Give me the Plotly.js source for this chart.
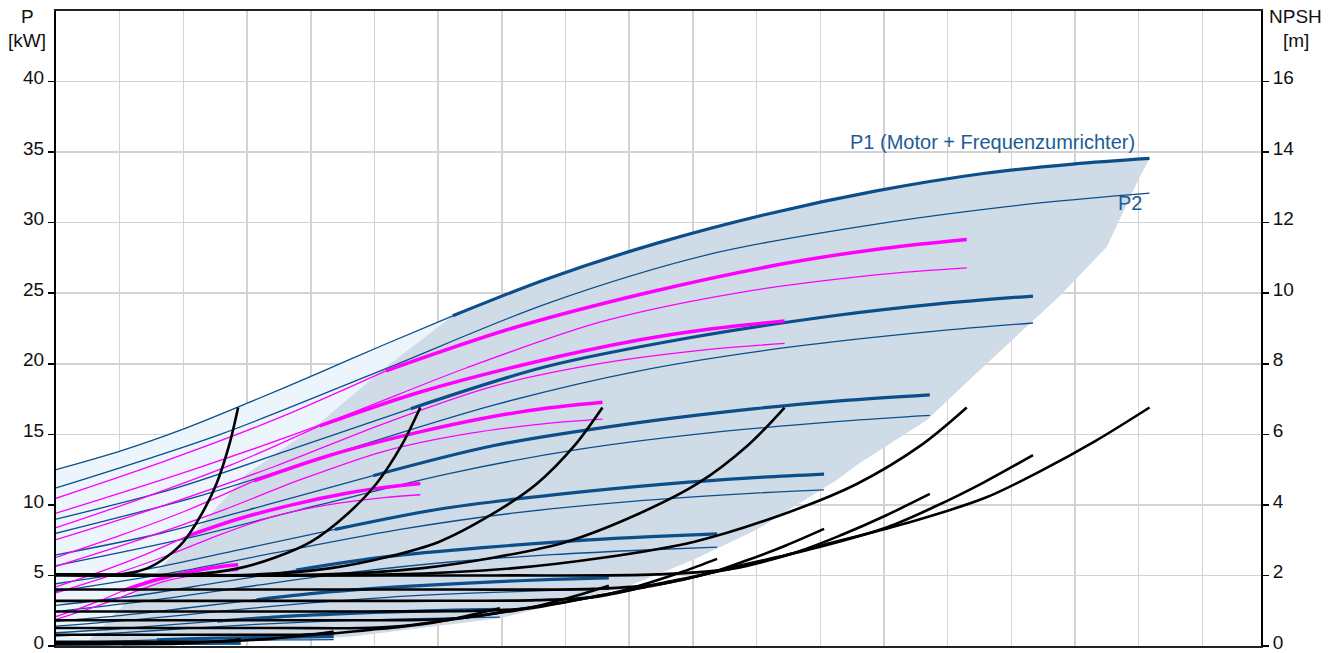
<!DOCTYPE html>
<html><head><meta charset="utf-8">
<script src="https://cdn.plot.ly/plotly-3.0.1.min.js"></script>
<style>html,body{margin:0;padding:0;background:#fff;}#chart{width:1341px;height:653px;}</style>
</head><body><div id="chart"></div>
<script>
// ---------- Blue family: P1 (thin part / thick operating part) and P2, x = flow (grid units), y = P [kW]
const blueP1ThinX = [
 [0,1.03,2.06,3.09,4.12,5.15,6.23],
 [0,1.84,3.68,5.57],
 [0,1.65,3.29,4.98],
 [0,1.45,2.89,4.38],
 [0,1.25,2.49,3.77],
 [0,1.04,2.08,3.15],
 [0,0.84,1.67,2.53],
 [0,0.52,1.05,1.58],
 [0,0.35,0.70,1.05]
];
const blueP1ThinP = [
 [12.5,13.85,15.48,17.37,19.34,21.35,23.4],
 [8.99,11.13,13.91,16.82],
 [6.45,7.99,9.98,12.07],
 [4.41,5.46,6.83,8.26],
 [2.88,3.56,4.45,5.38],
 [1.75,2.17,2.71,3.28],
 [0.94,1.17,1.46,1.76],
 [0.24,0.29,0.37,0.44],
 [0.08,0.10,0.13,0.15]
];
const blueP1ThickX = [
 [6.23,7.73,9.44,11.16,12.88,14.59,15.97,17.17],
 [5.57,7.67,9.97,12.27,13.81,15.34],
 [4.98,6.86,8.92,10.98,12.35,13.72],
 [4.38,6.03,7.84,9.65,10.85,12.06],
 [3.77,5.19,6.75,8.30,9.34,10.38],
 [3.15,4.34,5.64,6.94,7.81,8.68],
 [2.53,3.49,4.53,5.58,6.27,6.97],
 [1.58,2.18,2.83,3.49,3.92,4.36],
 [1.05,1.45,1.89,2.32,2.61,2.90]
];
const blueP1ThickP = [
 [23.4,26.05,28.55,30.6,32.25,33.5,34.15,34.55],
 [16.82,19.77,21.86,23.44,24.23,24.8],
 [12.07,14.19,15.69,16.82,17.39,17.80],
 [8.26,9.71,10.73,11.51,11.90,12.18],
 [5.38,6.33,6.99,7.50,7.75,7.94],
 [3.28,3.85,4.26,4.56,4.72,4.83],
 [1.76,2.07,2.29,2.46,2.54,2.60],
 [0.44,0.52,0.58,0.62,0.64,0.66],
 [0.15,0.18,0.20,0.21,0.22,0.22]
];
const blueP2X = [
 [0,2.58,5.15,7.73,10.3,12.88,15.45,17.17],
 [0,2.30,4.60,6.90,9.20,11.51,13.81,15.34],
 [0,2.06,4.12,6.17,8.23,10.29,12.35,13.72],
 [0,1.81,3.62,5.43,7.24,9.05,10.85,12.06],
 [0,1.56,3.11,4.67,6.23,7.79,9.34,10.38],
 [0,1.30,2.60,3.91,5.21,6.51,7.81,8.68],
 [0,1.05,2.09,3.14,4.18,5.23,6.27,6.97],
 [0,0.65,1.31,1.96,2.62,3.27,3.92,4.36],
 [0,0.44,0.87,1.31,1.74,2.18,2.61,2.90]
];
const blueP2P = [
 [11.2,15.0,19.6,24.3,27.8,29.9,31.4,32.1],
 [7.99,10.70,13.97,17.11,19.54,21.18,22.32,22.89],
 [5.70,7.64,9.98,12.22,13.95,15.12,15.93,16.34],
 [3.86,5.18,6.76,8.28,9.45,10.25,10.80,11.07],
 [2.44,3.27,4.27,5.23,5.97,6.47,6.82,7.00],
 [1.41,1.89,2.47,3.02,3.45,3.74,3.94,4.04],
 [0.71,0.95,1.25,1.53,1.74,1.89,1.99,2.04],
 [0.16,0.21,0.27,0.34,0.38,0.42,0.44,0.45],
 [0.04,0.06,0.08,0.10,0.11,0.12,0.13,0.13]
];

// ---------- Magenta family
const magP1ThinX = [[0,1.72,3.43,5.18],[0,1.37,2.75,4.14],[0,1.03,2.06,3.11],[0,0.69,1.37,2.07],[0,0.34,0.69,1.04]];
const magP1ThinP = [[10.47,13.12,16.04,19.5],[8.38,10.50,12.83,15.6],[6.28,7.87,9.62,11.7],[4.19,5.25,6.42,7.8],[2.09,2.62,3.21,3.9]];
const magP1ThickX = [[5.18,7.15,9.30,11.44,12.87,14.30],[4.14,5.72,7.44,9.15,10.30,11.44],[3.11,4.29,5.58,6.86,7.72,8.58],[2.07,2.86,3.72,4.58,5.15,5.72],[1.04,1.43,1.86,2.29,2.57,2.86]];
const magP1ThickP = [[19.5,22.5,25.05,27.1,28.1,28.8],[15.6,18.0,20.04,21.68,22.48,23.04],[11.7,13.5,15.03,16.26,16.86,17.28],[7.8,9.0,10.02,10.84,11.24,11.52],[3.9,4.5,5.01,5.42,5.62,5.76]];
const magP2X = [[0,2.15,4.29,6.44,8.58,10.73,12.87,14.30],[0,1.72,3.43,5.15,6.86,8.58,10.30,11.44],[0,1.29,2.57,3.86,5.15,6.44,7.72,8.58],[0,0.86,1.72,2.57,3.43,4.29,5.15,5.72],[0,0.43,0.86,1.29,1.72,2.15,2.57,2.86]];
const magP2P = [[9.41,12.5,15.9,19.7,23.0,25.05,26.3,26.8],[7.53,10.0,12.72,15.76,18.4,20.04,21.04,21.44],[5.65,7.5,9.54,11.82,13.8,15.03,15.78,16.08],[3.76,5.0,6.36,7.88,9.2,10.02,10.52,10.72],[1.88,2.5,3.18,3.94,4.6,5.01,5.26,5.36]];

// ---------- NPSH [m] curves (right axis)
const npshMagX = [[0,5.29,7.15,8.58,10.01,11.44,12.58,13.59,14.30],[0,4.23,5.72,6.86,8.01,9.15,10.07,10.87,11.44],[0,3.17,4.29,5.15,6.01,6.86,7.55,8.15,8.58],[0,2.12,2.86,3.43,4.0,4.58,5.03,5.43,5.72],[0,1.06,1.43,1.72,2.0,2.29,2.52,2.72,2.86]];
const npshMagN = [[2.03,2.03,2.2,2.5,2.95,3.75,4.6,5.7,6.76],[2.03,2.03,2.2,2.5,2.95,3.75,4.6,5.7,6.76],[2.03,2.03,2.2,2.5,2.95,3.75,4.6,5.7,6.76],[2.03,2.03,2.2,2.5,2.95,3.75,4.6,5.7,6.76],[2.03,2.03,2.2,2.5,2.95,3.75,4.6,5.7,6.76]];
const npshBlueX = [
 [0,6.87,9.44,10.65,12.02,13.39,14.59,15.45,16.31,17.17],
 [0,6.14,8.44,9.51,10.74,11.97,13.04,13.81,14.57,15.34],
 [0,5.49,7.55,8.51,9.60,10.70,11.66,12.35,13.03,13.72],
 [0,4.82,6.63,7.48,8.44,9.41,10.25,10.85,11.46,12.06],
 [0,4.15,5.71,6.44,7.27,8.10,8.82,9.34,9.86,10.38],
 [0,3.47,4.77,5.38,6.08,6.77,7.38,7.81,8.25,8.68],
 [0,2.79,3.83,4.32,4.88,5.44,5.92,6.27,6.62,6.97],
 [0,1.74,2.40,2.70,3.05,3.40,3.71,3.92,4.14,4.36],
 [0,1.16,1.60,1.80,2.03,2.26,2.47,2.61,2.76,2.90]
];
const npshBlueN = [
 [2.0,2.0,2.03,2.2,2.85,3.5,4.2,4.95,5.8,6.76],
 [1.6,1.6,1.62,1.76,2.28,2.8,3.36,3.96,4.64,5.41],
 [1.28,1.28,1.30,1.40,1.82,2.23,2.68,3.16,3.70,4.31],
 [0.98,0.98,1.0,1.08,1.40,1.72,2.06,2.43,2.85,3.32],
 [0.73,0.73,0.74,0.81,1.04,1.28,1.54,1.81,2.12,2.47],
 [0.51,0.51,0.51,0.56,0.72,0.89,1.06,1.25,1.47,1.71],
 [0.32,0.32,0.32,0.35,0.45,0.55,0.66,0.78,0.92,1.07],
 [0.12,0.12,0.12,0.13,0.17,0.21,0.26,0.30,0.35,0.41],
 [0.06,0.06,0.06,0.06,0.08,0.10,0.12,0.14,0.16,0.19]
];

// ---------- shaded operating area boundaries
const greyLeftX = [0.43,1.0,2.0,3.0,4.14,5.16,6.23];
const greyLeftP = [0,2.6,7.2,12.2,15.8,19.7,23.4];
const greyRightX = [17.17,17.0,16.5,15.76,14.35,13.67,12.62,12.26,11.0,10.0,8.96,7.91,6.97,4.62,3.05,1.48,0.43];
const greyRightP = [34.55,33.1,28.3,24.8,18.9,16.0,12.96,11.77,8.23,6.1,4.2,3.03,1.96,0.66,0.3,0.2,0];

// ---------- texts
const leftTicks = [0,5,10,15,20,25,30,35,40];
const rightTicks = [0,2,4,6,8,10,12,14,16];
const labelP1 = 'P1 (Motor + Frequenzumrichter)';
const labelP2 = 'P2';

const BLUE = '#0c4e8a', MAG = '#ff00ff', TXT = '#1d5b98';
const traces = [];
traces.push({x:[0].concat(blueP1ThinX[0], greyLeftX.slice().reverse()),
             y:[0].concat(blueP1ThinP[0], greyLeftP.slice().reverse()),
             type:'scatter', mode:'lines', fill:'toself', fillcolor:'#ecf4fc', line:{width:0}, hoverinfo:'skip'});
traces.push({x:greyLeftX.concat(blueP1ThickX[0], greyRightX),
             y:greyLeftP.concat(blueP1ThickP[0], greyRightP),
             type:'scatter', mode:'lines', fill:'toself', fillcolor:'#cfdbe7', line:{width:0}, hoverinfo:'skip'});
function ln(x,y,color,w,axis){
  traces.push({x:x,y:y,type:'scatter',mode:'lines',yaxis:axis||'y',
    line:{color:color,width:w,shape:'spline',smoothing:0.9},hoverinfo:'skip'});
}
for(let i=0;i<blueP2X.length;i++){ ln(blueP2X[i],blueP2P[i],BLUE,1.3); ln(blueP1ThinX[i],blueP1ThinP[i],BLUE,1.3); }
for(let i=0;i<magP2X.length;i++){ ln(magP2X[i],magP2P[i],MAG,1.3); ln(magP1ThinX[i],magP1ThinP[i],MAG,1.3); }
for(let i=0;i<blueP1ThickX.length;i++){ ln(blueP1ThickX[i],blueP1ThickP[i],BLUE,3.2); }
for(let i=0;i<magP1ThickX.length;i++){ ln(magP1ThickX[i],magP1ThickP[i],MAG,3.5); }
for(let i=0;i<npshBlueX.length;i++){ ln(npshBlueX[i],npshBlueN[i],'#000',2.6,'y2'); }
for(let i=0;i<npshMagX.length;i++){ ln(npshMagX[i],npshMagN[i],'#000',2.6,'y2'); }

const FONT = 'Liberation Sans, Arial, sans-serif';
const FS = 19;
const layout = {
  width:1341, height:653, showlegend:false, hovermode:false,
  paper_bgcolor:'#fff', plot_bgcolor:'#fff',
  margin:{l:56,r:80,t:11,b:7},
  font:{family:FONT,size:FS,color:'#111'},
  xaxis:{range:[0,18.92],dtick:1,tick0:0,showticklabels:false,ticks:'',
         showgrid:true,gridcolor:'#d3d3d3',gridwidth:1.5,zeroline:false,
         showline:true,linecolor:'#222',linewidth:2,mirror:true,fixedrange:true},
  yaxis:{range:[0,45],tickvals:leftTicks,ticks:'outside',ticklen:6,tickwidth:1.5,tickcolor:'#000',
         ticklabeloverflow:'allow',automargin:false,ticklabelshift:-4,
         showgrid:true,gridcolor:'#d3d3d3',gridwidth:1.5,zeroline:false,
         showline:true,linecolor:'#000',linewidth:2,tickfont:{family:FONT,size:FS,color:'#111'},fixedrange:true},
  yaxis2:{range:[0,18],tickvals:rightTicks,overlaying:'y',side:'right',ticks:'outside',ticklen:6,tickwidth:1.5,tickcolor:'#000',
         ticklabeloverflow:'allow',automargin:false,ticklabelshift:-4,
         showgrid:false,zeroline:false,showline:true,linecolor:'#000',linewidth:2,
         tickfont:{family:FONT,size:FS,color:'#111'},fixedrange:true},
  annotations:[
    {text:'P',xref:'paper',yref:'paper',x:-0.024,y:0.9906,showarrow:false,xanchor:'center',yanchor:'middle',font:{size:FS,color:'#111'}},
    {text:'[kW]',xref:'paper',yref:'paper',x:-0.024,y:0.954,showarrow:false,xanchor:'center',yanchor:'middle',font:{size:FS,color:'#111'}},
    {text:'NPSH',xref:'paper',yref:'paper',x:1.029,y:0.9906,showarrow:false,xanchor:'center',yanchor:'middle',font:{size:FS,color:'#111'}},
    {text:'[m]',xref:'paper',yref:'paper',x:1.029,y:0.954,showarrow:false,xanchor:'center',yanchor:'middle',font:{size:FS,color:'#111'}},
    {text:labelP1,xref:'x',yref:'y',x:12.44,y:35.75,showarrow:false,xanchor:'left',yanchor:'middle',font:{size:20,color:TXT}},
    {text:labelP2,xref:'x',yref:'y',x:16.86,y:31.4,showarrow:false,xanchor:'center',yanchor:'middle',font:{size:20,color:TXT}}
  ]
};
Plotly.newPlot('chart', traces, layout, {staticPlot:true, displayModeBar:false});
</script></body></html>
